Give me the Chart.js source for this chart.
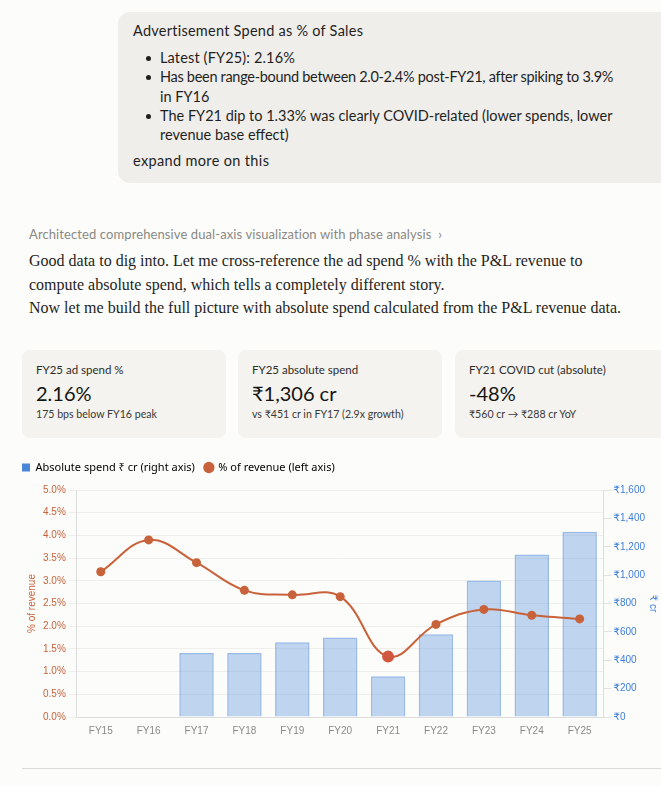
<!DOCTYPE html>
<html>
<head>
<meta charset="utf-8">
<script src="https://cdn.jsdelivr.net/npm/chart.js@4.4.1/dist/chart.umd.min.js"></script>
<style>
  html, body { margin:0; padding:0; }
  body { width:661px; height:786px; overflow:hidden; background:#fcfcfa; position:relative; font-family:"Lato","Noto Sans",sans-serif; color:#1f1f1e; }
  .bubble { position:absolute; left:118px; top:12px; width:560px; height:171px; background:#efeeeb; border-radius:12px; }
  .bt { position:absolute; left:133px; font-size:14.5px; white-space:nowrap; color:#1f1f1e; }
  .dot { position:absolute; left:146px; width:5px; height:5px; border-radius:50%; background:#1f1f1e; }
  .thought { position:absolute; left:29px; top:226px; font-size:13px; color:#8a8984; white-space:nowrap; letter-spacing:0.1px; }
  .body { position:absolute; left:29px; font-family:"Liberation Serif","DejaVu Serif",serif; font-size:16px; color:#1f1f1e; white-space:nowrap; }
  .card { position:absolute; top:350px; height:88px; width:204px; background:#f4f3ef; border-radius:8px; }
  .cl { position:absolute; left:14px; top:13px; font-size:11.5px; color:#2c2c2a; white-space:nowrap; }
  .cv { position:absolute; left:14px; top:31px; font-size:20px; color:#141413; white-space:nowrap; }
  .cs { position:absolute; left:14px; top:58px; font-size:10.6px; color:#3a3a38; white-space:nowrap; }
  .chartbox { position:absolute; left:12px; top:452px; width:649px; height:285px; }
  .rule { position:absolute; left:22px; top:768px; width:639px; height:1px; background:#dcdbd7; }
</style>
</head>
<body>
<div class="bubble"></div>
<div class="bt" style="top:22px;letter-spacing:0.25px">Advertisement Spend as % of Sales</div>
<div class="dot" style="top:56px"></div>
<div class="bt" style="left:160px;top:49px;letter-spacing:0.15px">Latest (FY25): 2.16%</div>
<div class="dot" style="top:75px"></div>
<div class="bt" style="left:160px;top:68px;letter-spacing:-0.3px">Has been range-bound between 2.0-2.4% post-FY21, after spiking to 3.9%</div>
<div class="bt" style="left:160px;top:88px">in FY16</div>
<div class="dot" style="top:114px"></div>
<div class="bt" style="left:160px;top:107px">The FY21 dip to 1.33% was clearly COVID-related (lower spends, lower</div>
<div class="bt" style="left:160px;top:126px">revenue base effect)</div>
<div class="bt" style="top:152px;letter-spacing:0.35px">expand more on this</div>

<div class="thought">Architected comprehensive dual-axis visualization with phase analysis &nbsp;›</div>
<div class="body" style="top:252px">Good data to dig into. Let me cross-reference the ad spend % with the P&amp;L revenue to</div>
<div class="body" style="top:276px">compute absolute spend, which tells a completely different story.</div>
<div class="body" style="top:299px">Now let me build the full picture with absolute spend calculated from the P&amp;L revenue data.</div>

<div class="card" style="left:22px">
  <div class="cl">FY25 ad spend %</div>
  <div class="cv">2.16%</div>
  <div class="cs">175 bps below FY16 peak</div>
</div>
<div class="card" style="left:238px">
  <div class="cl">FY25 absolute spend</div>
  <div class="cv">₹1,306 cr</div>
  <div class="cs">vs ₹451 cr in FY17 (2.9x growth)</div>
</div>
<div class="card" style="left:455px; width:220px">
  <div class="cl">FY21 COVID cut (absolute)</div>
  <div class="cv">-48%</div>
  <div class="cs">₹560 cr → ₹288 cr YoY</div>
</div>

<div class="chartbox"><canvas id="c"></canvas></div>
<div class="rule"></div>

<script>
const categories = ["FY15","FY16","FY17","FY18","FY19","FY20","FY21","FY22","FY23","FY24","FY25"];
const absoluteSpend = [null, null, 451, 451, 526, 560, 288, 583, 962, 1146, 1306];
const pctOfRevenue = [3.2, 3.9, 3.4, 2.79, 2.69, 2.65, 1.33, 2.04, 2.37, 2.24, 2.16];
const leftTicks = { min: 0, max: 5, step: 0.5 };
const rightTicks = { min: 0, max: 1600, step: 200 };

const ORANGE = "#c8623a";
const BLUE = "#3f7fd9";
const tickFont = { family: "'Liberation Sans', Arial, 'DejaVu Sans', sans-serif", size: 10 };

const legendGap = {
  id: "legendGap",
  beforeInit(chart) {
    const origFit = chart.legend.fit;
    chart.legend.fit = function () {
      origFit.call(this);
      this.height += 7;
    };
  }
};

new Chart(document.getElementById("c"), {
  data: {
    labels: categories,
    datasets: [
      {
        type: "line",
        label: "% of revenue (left axis)",
        data: pctOfRevenue,
        yAxisID: "yL",
        borderColor: ORANGE,
        backgroundColor: ORANGE,
        borderWidth: 2,
        tension: 0.4,
        pointRadius: pctOfRevenue.map((v, i) => categories[i] === "FY21" ? 6 : 4.5),
        pointBackgroundColor: pctOfRevenue.map((v, i) => categories[i] === "FY21" ? "#d2573f" : ORANGE),
        pointBorderWidth: 0,
        order: 0
      },
      {
        type: "bar",
        label: "Absolute spend ₹ cr (right axis)",
        data: absoluteSpend,
        yAxisID: "yR",
        backgroundColor: "rgba(74,134,218,0.34)",
        borderColor: "rgba(74,134,218,0.55)",
        borderWidth: 1.5,
        order: 1
      }
    ]
  },
  plugins: [legendGap],
  options: {
    responsive: true,
    maintainAspectRatio: false,
    animation: false,
    layout: { padding: 0 },
    plugins: {
      tooltip: { enabled: false },
      legend: {
        position: "top",
        align: "start",
        reverse: true,
        labels: {
          usePointStyle: true,
          boxWidth: 8, boxHeight: 8,
          padding: 10,
          color: "#333333",
          font: { family: "'Noto Sans', 'DejaVu Sans', sans-serif", size: 11 },
          generateLabels: (chart) => chart.data.datasets.map((ds, i) => ({
            text: ds.label,
            fillStyle: ds.type === "bar" ? "#4a86d8" : ORANGE,
            strokeStyle: ds.type === "bar" ? "#4a86d8" : ORANGE,
            lineWidth: 0,
            pointStyle: ds.type === "bar" ? "rect" : "circle",
            datasetIndex: i,
            hidden: false
          }))
        }
      }
    },
    scales: {
      x: {
        grid: { display: false },
        border: { display: true, color: "#dddddd" },
        ticks: { color: "#8a8a8a", font: tickFont, padding: 0 }
      },
      yL: {
        position: "left",
        min: leftTicks.min, max: leftTicks.max,
        ticks: { stepSize: leftTicks.step, color: ORANGE, font: tickFont, callback: v => v.toFixed(1) + "%" },
        grid: { color: "#eeeeec" },
        border: { display: true, color: "#dddddd" },
        title: { display: true, text: "% of revenue", color: ORANGE, font: tickFont, padding: { top: 14, bottom: 2 } }
      },
      yR: {
        position: "right",
        min: rightTicks.min, max: rightTicks.max,
        ticks: { stepSize: rightTicks.step, color: BLUE, font: tickFont, padding: 2, callback: v => "₹" + v.toLocaleString("en-US") },
        grid: { drawOnChartArea: false },
        border: { display: true, color: "#dddddd" },
        title: { display: true, text: "₹ cr", color: BLUE, font: tickFont, padding: { top: 2, bottom: 0 } }
      }
    }
  }
});
</script>
</body>
</html>
